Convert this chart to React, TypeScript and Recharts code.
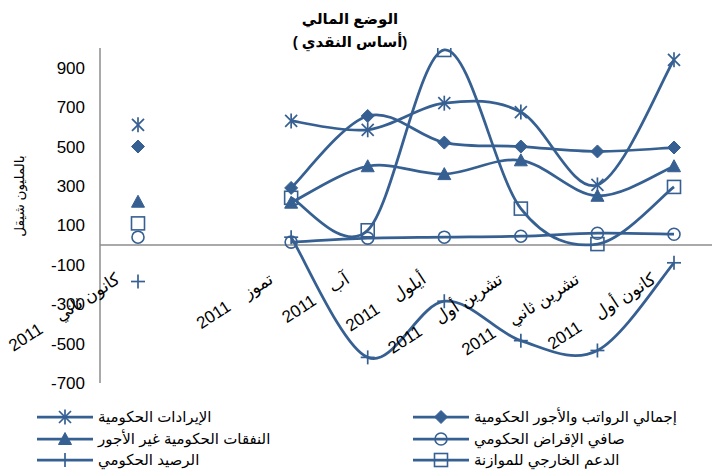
import React from 'react';
import { LineChart, Line, XAxis, YAxis, ReferenceLine, ReferenceDot } from 'recharts';

const months = ['كانون ثاني', '', 'تموز', 'آب', 'أيلول', 'تشرين أول', 'تشرين ثاني', 'كانون أول'];
const years = ['2011', '', '2011', '2011', '2011', '2011', '2011', '2011'];

const revenues = [610, null, 630, 585, 720, 675, 305, 940];
const wages = [500, null, 290, 655, 520, 500, 475, 495];
const nonWage = [220, null, 215, 400, 360, 430, 250, 400];
const netLending = [40, null, 15, 35, 40, 45, 60, 55];
const balance = [-185, null, 40, -570, -285, -485, -535, -90];
const support = [110, null, 240, 75, 990, 185, 5, 295];

const yTicks = [-700, -500, -300, -100, 100, 300, 500, 700, 900];

const seriesNames = {
  revenues: 'الإيرادات الحكومية',
  wages: 'إجمالي الرواتب والأجور الحكومية',
  nonWage: 'النفقات الحكومية غير الأجور',
  netLending: 'صافي الإقراض الحكومي',
  balance: 'الرصيد الحكومي',
  support: 'الدعم الخارجي للموازنة',
};

const data = months.map((m, i) => ({
  cat: m ? `${m} ${years[i]}` : `blank${i}`,
  revenues: revenues[i],
  wages: wages[i],
  nonWage: nonWage[i],
  netLending: netLending[i],
  balance: balance[i],
  support: support[i],
}));

const COLOR = '#376092';
const FONT = "'Liberation Sans', Arial, 'DejaVu Sans', sans-serif";

type Shape = 'asterisk' | 'diamond' | 'triangle' | 'circle' | 'plus' | 'square';

function MarkerShape({ shape, cx, cy }: { shape: Shape; cx: number; cy: number }) {
  const c = COLOR;
  switch (shape) {
    case 'asterisk':
      return (
        <g stroke={c} strokeWidth={1.7} fill="none">
          <line x1={cx - 6} y1={cy - 6} x2={cx + 6} y2={cy + 6} />
          <line x1={cx - 6} y1={cy + 6} x2={cx + 6} y2={cy - 6} />
          <line x1={cx} y1={cy - 7.5} x2={cx} y2={cy + 7.5} />
        </g>
      );
    case 'diamond':
      return <path d={`M${cx},${cy - 6.5}L${cx + 6.5},${cy}L${cx},${cy + 6.5}L${cx - 6.5},${cy}Z`} fill={c} stroke={c} strokeWidth={1} />;
    case 'triangle':
      return <path d={`M${cx},${cy - 6.5}L${cx + 6.5},${cy + 5.5}L${cx - 6.5},${cy + 5.5}Z`} fill={c} stroke={c} strokeWidth={1} />;
    case 'circle':
      return <circle cx={cx} cy={cy} r={6} fill="none" stroke={c} strokeWidth={1.6} />;
    case 'plus':
      return (
        <g stroke={c} strokeWidth={1.7}>
          <line x1={cx - 7} y1={cy} x2={cx + 7} y2={cy} />
          <line x1={cx} y1={cy - 7} x2={cx} y2={cy + 7} />
        </g>
      );
    case 'square':
      return <rect x={cx - 6.5} y={cy - 6.5} width={13} height={13} fill="none" stroke={c} strokeWidth={1.6} />;
  }
  return null;
}

const makeDot = (shape: Shape) => (props: any) => {
  const { cx, cy, key, index } = props;
  if (cx == null || cy == null || props.value == null) return <g key={key ?? `d${index}`} />;
  return (
    <g key={key ?? `d${index}`}>
      <MarkerShape shape={shape} cx={cx} cy={cy} />
    </g>
  );
};

// Excel-like smoothed line (Catmull-Rom style Bezier)
function excelSmooth(context: any) {
  let pts: number[][] = [];
  return {
    areaStart() {},
    areaEnd() {},
    lineStart() {
      pts = [];
    },
    lineEnd() {
      const n = pts.length;
      if (n === 0) return;
      context.moveTo(pts[0][0], pts[0][1]);
      const t = 1 / 6;
      for (let i = 0; i < n - 1; i++) {
        const p0 = pts[i - 1] || pts[i];
        const p1 = pts[i];
        const p2 = pts[i + 1];
        const p3 = pts[i + 2] || pts[i + 1];
        context.bezierCurveTo(
          p1[0] + (p2[0] - p0[0]) * t,
          p1[1] + (p2[1] - p0[1]) * t,
          p2[0] - (p3[0] - p1[0]) * t,
          p2[1] - (p3[1] - p1[1]) * t,
          p2[0],
          p2[1]
        );
      }
    },
    point(x: number, y: number) {
      pts.push([+x, +y]);
    },
  };
}

const CatLabel = (props: any) => {
  const { viewBox, month, year } = props;
  if (!month) return null;
  const x = viewBox.x + (viewBox.width || 0) / 2 - 17;
  const y = viewBox.y + (viewBox.height || 0) / 2 + 37;
  return (
    <text
      x={x}
      y={y}
      transform={`rotate(-33 ${x} ${y})`}
      textAnchor="end"
      fontSize={17}
      fill="#000"
      fontFamily={FONT}
    >
      {`${year}\u00A0\u00A0\u00A0\u00A0${month}`}
    </text>
  );
};

const lines: { key: keyof typeof seriesNames; shape: Shape }[] = [
  { key: 'wages', shape: 'diamond' },
  { key: 'revenues', shape: 'asterisk' },
  { key: 'netLending', shape: 'circle' },
  { key: 'nonWage', shape: 'triangle' },
  { key: 'support', shape: 'square' },
  { key: 'balance', shape: 'plus' },
];

const legendItems: { key: keyof typeof seriesNames; shape: Shape; left: number; top: number }[] = [
  { key: 'revenues', shape: 'asterisk', left: 36, top: 407 },
  { key: 'wages', shape: 'diamond', left: 412, top: 407 },
  { key: 'nonWage', shape: 'triangle', left: 36, top: 429 },
  { key: 'netLending', shape: 'circle', left: 412, top: 429 },
  { key: 'balance', shape: 'plus', left: 36, top: 450 },
  { key: 'support', shape: 'square', left: 412, top: 450 },
];

export default function App() {
  return (
    <div style={{ position: 'absolute', left: 0, top: 0, width: 712, height: 471, background: '#fff', fontFamily: FONT }}>
      <LineChart width={712} height={471} data={data} margin={{ top: 48, right: 0, left: 0, bottom: 88 }}>
        <XAxis dataKey="cat" hide padding={{ left: 38, right: 38 }} />
        <YAxis
          width={100}
          domain={[-700, 1000]}
          ticks={yTicks}
          interval={0}
          allowDataOverflow
          tickLine={false}
          tickSize={0}
          tickMargin={15}
          axisLine={{ stroke: '#8c8c8c', strokeWidth: 1.5 }}
          tick={{ fontSize: 17, fill: '#000', fontFamily: FONT }}
          label={{
            content: () => (
              <text
                x={24}
                y={196}
                transform="rotate(-90 24 196)"
                textAnchor="middle"
                fontSize={13.5}
                fill="#000"
                fontFamily={FONT}
              >
                بالمليون شيقل
              </text>
            ),
          }}
        />
        <ReferenceLine y={0} stroke="#8c8c8c" strokeWidth={1.5} />
        {lines.map((l) => (
          <Line
            key={l.key}
            dataKey={l.key}
            name={seriesNames[l.key]}
            stroke={COLOR}
            strokeWidth={2.75}
            type={excelSmooth as any}
            dot={makeDot(l.shape)}
            activeDot={false}
            isAnimationActive={false}
          />
        ))}
        {data.map((d, i) => (
          <ReferenceDot
            key={`lbl${i}`}
            x={d.cat}
            y={0}
            r={0}
            fill="none"
            stroke="none"
            label={(p: any) => <CatLabel {...p} month={months[i]} year={years[i]} />}
          />
        ))}
      </LineChart>
      <div
        dir="rtl"
        style={{
          position: 'absolute',
          left: 0,
          top: 7,
          width: 700,
          textAlign: 'center',
          fontWeight: 'bold',
          fontSize: 15,
          lineHeight: '23px',
          color: '#000',
        }}
      >
        <div>الوضع المالي</div>
        <div>(أساس النقدي )</div>
      </div>
      {legendItems.map((it) => (
        <div
          key={it.key}
          style={{ position: 'absolute', left: it.left, top: it.top, height: 20, display: 'flex', alignItems: 'center' }}
        >
          <svg width={58} height={20} style={{ display: 'block' }}>
            <line x1={1} y1={10} x2={57} y2={10} stroke={COLOR} strokeWidth={2.75} />
            <MarkerShape shape={it.shape} cx={29} cy={10} />
          </svg>
          <span style={{ fontSize: 15, marginLeft: 4, color: '#000', whiteSpace: 'nowrap' }}>{seriesNames[it.key]}</span>
        </div>
      ))}
    </div>
  );
}
